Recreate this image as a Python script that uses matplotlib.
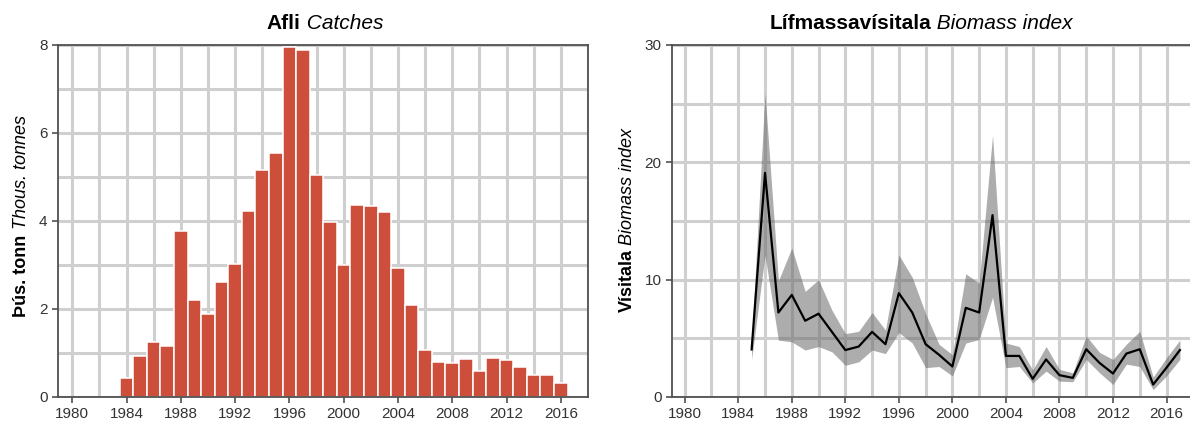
import matplotlib
matplotlib.use("Agg")
import matplotlib.pyplot as plt
import numpy as np

plt.rcParams['font.family'] = ['Liberation Sans', 'DejaVu Sans']

# Afli / Catches (thous. tonnes)
catch_years = list(range(1984, 2017))
catches = [0.43, 0.93, 1.25, 1.17, 3.78, 2.21, 1.88, 2.62, 3.03, 4.22,
           5.15, 5.55, 7.95, 7.88, 5.05, 3.97, 3.01, 4.36, 4.34, 4.20,
           2.93, 2.10, 1.06, 0.80, 0.77, 0.86, 0.60, 0.88, 0.84, 0.68,
           0.49, 0.49, 0.32]

# Lifmassavisitala / Biomass index
idx_years = list(range(1985, 2018))
idx = [4.05, 19.1, 7.2, 8.7, 6.5, 7.1, 5.55, 4.0, 4.3, 5.55,
       4.5, 8.85, 7.2, 4.5, 3.6, 2.6, 7.6, 7.2, 15.5, 3.5,
       3.5, 1.55, 3.2, 1.86, 1.63, 4.07, 2.9, 2.0, 3.7, 4.07,
       1.06, 2.5, 4.0]
idx_hi = [4.7, 25.9, 9.9, 12.7, 9.0, 10.0, 7.4, 5.4, 5.6, 7.2,
          5.7, 12.1, 10.2, 7.1, 4.5, 3.6, 10.5, 9.7, 22.3, 4.6,
          4.3, 2.3, 4.3, 2.35, 2.06, 5.2, 3.8, 3.2, 4.5, 5.6,
          1.7, 3.35, 4.85]
idx_lo = [3.2, 12.1, 4.85, 4.7, 4.0, 4.3, 3.85, 2.7, 3.0, 4.0,
          3.7, 5.5, 4.6, 2.5, 2.6, 1.8, 4.6, 4.9, 8.5, 2.5,
          2.6, 1.2, 2.2, 1.35, 1.3, 3.2, 2.06, 1.06, 2.8, 2.6,
          0.63, 1.8, 3.2]

xticks = list(range(1980, 2017, 4))
grid_col = '#cfcfcf'
spine_col = '#505050'

fig = plt.figure(figsize=(11.9, 4.21), dpi=100)
ax1 = fig.add_axes([58/1190, 24/421, 530/1190, 352/421])
ax2 = fig.add_axes([672/1190, 24/421, 530/1190, 352/421])


def style_axes(ax, yticks, ygrid):
    ax.set_xticks(xticks)
    ax.set_xticks(range(1980, 2019, 2), minor=True)
    ax.set_yticks(yticks)
    ax.set_yticks(ygrid, minor=True)
    ax.tick_params(which='minor', length=0)
    ax.tick_params(which='major', direction='out', length=4.5, width=1.2,
                   color=spine_col, labelsize=11, labelcolor='#333333', pad=3)
    ax.grid(True, which='both', color=grid_col, linewidth=2.2, zorder=0)
    ax.set_axisbelow(True)
    for s in ax.spines.values():
        s.set_color(spine_col)
        s.set_linewidth(1.3)


# left: catches
ax1.bar(catch_years, catches, width=1.0, color='#cd4f3b', edgecolor='white',
        linewidth=1.1, zorder=2)
ax1.set_xlim(1978.95, 2017.95)
ax1.set_ylim(0, 8)
style_axes(ax1, [0, 2, 4, 6, 8], np.arange(0, 9, 1))

# right: biomass index
ax2.fill_between(idx_years, idx_lo, idx_hi, color='#6a6a6a', alpha=0.55,
                 linewidth=0, zorder=2)
ax2.plot(idx_years, idx, color='black', linewidth=1.6, zorder=3)
ax2.set_xlim(1979.05, 2018.65)
ax2.set_ylim(0, 30)
style_axes(ax2, [0, 10, 20, 30], np.arange(0, 31, 5))

# mixed bold/italic titles and labels
fig.canvas.draw()
rend = fig.canvas.get_renderer()


def two_part(xpx, ypx, bold, ital, size, rotation=0):
    t1 = fig.text(0, 0, bold, weight='bold', size=size, rotation=rotation,
                  ha='left', va='baseline', rotation_mode='anchor',
                  transform=None)
    t2 = fig.text(0, 0, ' ' + ital, style='italic', size=size,
                  rotation=rotation, ha='left', va='baseline',
                  rotation_mode='anchor', transform=None)
    b1 = t1.get_window_extent(rend)
    b2 = t2.get_window_extent(rend)
    if rotation == 0:
        w1, w2 = b1.width, b2.width
        start = xpx - (w1 + w2) / 2
        t1.set_position((start, ypx))
        t2.set_position((start + w1, ypx))
    else:
        w1, w2 = b1.height, b2.height
        start = ypx - (w1 + w2) / 2
        t1.set_position((xpx, start))
        t2.set_position((xpx, start + w1))


H = 421
two_part(325, H - 29, 'Afli', 'Catches', 15)
two_part(921, H - 29, 'Lífmassavísitala', 'Biomass index', 15)
two_part(26, H - 216, 'Þús. tonn', 'Thous. tonnes', 13, rotation=90)
two_part(632, H - 220, 'Vísitala', 'Biomass index', 13, rotation=90)

fig.savefig('out.png', dpi=100)
